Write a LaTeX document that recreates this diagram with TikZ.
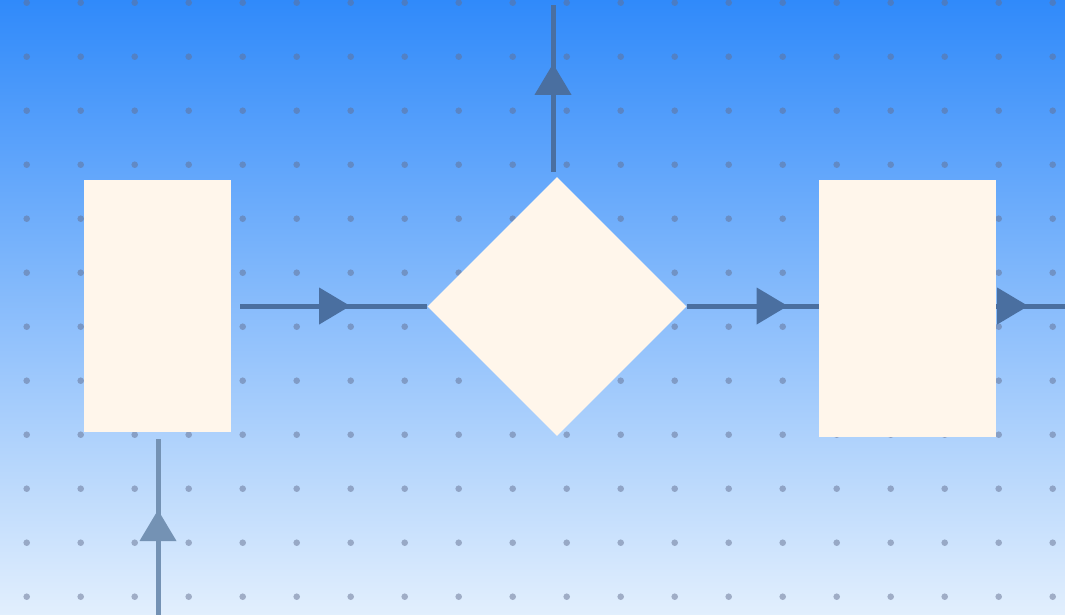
\documentclass[tikz,border=0pt]{standalone}
\usetikzlibrary{shapes.geometric,decorations.markings,calc}
\definecolor{bgtop}{RGB}{48,138,250}
\definecolor{bgbot}{RGB}{226,239,253}
\definecolor{cream}{RGB}{255,246,235}
\definecolor{dotc}{RGB}{100,112,145}
\definecolor{arrA}{RGB}{74,111,160}
\definecolor{arrB}{RGB}{116,146,180}
\tikzset{
  box/.style={rectangle, fill=cream, draw=none, inner sep=0pt},
  dec/.style={diamond, fill=cream, draw=none, inner sep=0pt, aspect=1,
    minimum width=259pt, minimum height=259pt},
  conn/.style={line width=5pt, color=#1},
  headat/.style={postaction={decorate, decoration={markings,
    mark=at position #1 with {\fill (-31pt,-18.5pt) -- (0pt,0pt) -- (-31pt,18.5pt) -- cycle;}}}},
  gdot/.style={fill=dotc, opacity=.5}
}
\begin{document}
\begin{tikzpicture}[x=1pt,y=-1pt]
\useasboundingbox (0,0) rectangle (1065,615);
\shade[top color=bgtop, bottom color=bgbot] (0,0) rectangle (1065,615);
\foreach \i in {0,...,19}{
  \foreach \j in {0,...,11}{
    \fill[gdot] (26.7+54*\i, 2.7+54*\j) circle (3.3pt);
  }
}
\node[box, minimum width=147pt, minimum height=252pt] (L) at (157.5,306) {};
\node[dec] (D) at (557,306.5) {};
\node[box, minimum width=177pt, minimum height=257pt] (R) at (907.5,308.5) {};
\coordinate (topEnd) at (553,5);
\coordinate (botStart) at (158,615);
\coordinate (rightEnd) at (1065,306);
\draw[conn=arrA, headat=110pt] ($(L.east)+(9,0)$) -- (D.west |- L.east);
\draw[conn=arrA, headat=101pt] (D.east |- rightEnd) -- (R.west |- rightEnd);
\draw[conn=arrA, headat=32pt] (R.east |- rightEnd) -- (rightEnd);
\draw[conn=arrA, headat=108pt] ($(D.north -| topEnd)+(0,-5)$) -- (topEnd);
\draw[conn=arrB, headat=105pt] (botStart) -- ($(L.south -| botStart)+(0,7)$);
\end{tikzpicture}
\end{document}
